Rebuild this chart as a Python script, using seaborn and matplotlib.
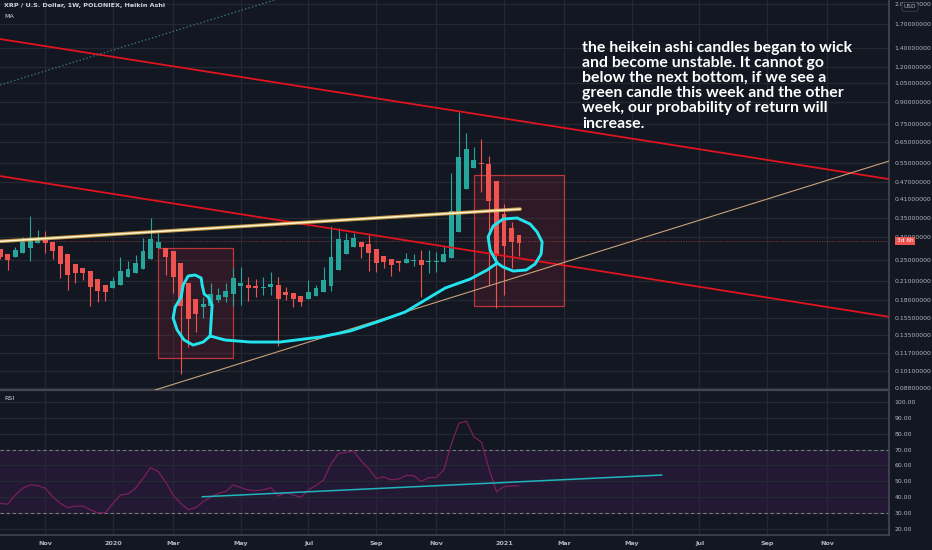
import numpy as np
import pandas as pd
import matplotlib
matplotlib.use("Agg")
import matplotlib.pyplot as plt
import matplotlib.dates as mdates
from matplotlib.ticker import FixedLocator, NullLocator, FuncFormatter
from matplotlib.patches import Rectangle
import seaborn as sns

# ---------------- data ----------------
first_week = "2019-09-23"
ha_open = [0.272, 0.262, 0.255, 0.264, 0.275, 0.286, 0.293, 0.288, 0.279, 0.262,
           0.241, 0.233, 0.228, 0.213, 0.203, 0.198, 0.203, 0.217, 0.224, 0.232,
           0.251, 0.275, 0.275, 0.268, 0.243, 0.207, 0.181, 0.170, 0.171, 0.180,
           0.184, 0.189, 0.202, 0.203, 0.202, 0.198, 0.200, 0.203, 0.192, 0.191,
           0.186, 0.181, 0.186, 0.192, 0.202, 0.230, 0.262, 0.277, 0.288, 0.284,
           0.272, 0.257, 0.251, 0.247, 0.243, 0.247, 0.249, 0.245, 0.245, 0.245,
           0.253, 0.313, 0.444, 0.526, 0.548, 0.544, 0.474, 0.362, 0.323, 0.305]
ha_high = [0.272, 0.262, 0.277, 0.300, 0.356, 0.318, 0.315, 0.288, 0.279, 0.262,
           0.241, 0.233, 0.228, 0.213, 0.203, 0.217, 0.255, 0.247, 0.260, 0.298,
           0.351, 0.310, 0.275, 0.268, 0.243, 0.207, 0.181, 0.184, 0.207, 0.198,
           0.207, 0.233, 0.235, 0.217, 0.213, 0.217, 0.226, 0.217, 0.200, 0.191,
           0.186, 0.212, 0.203, 0.235, 0.329, 0.323, 0.310, 0.310, 0.288, 0.305,
           0.272, 0.257, 0.251, 0.247, 0.264, 0.262, 0.270, 0.270, 0.266, 0.279,
           0.505, 0.830, 0.700, 0.624, 0.666, 0.580, 0.474, 0.393, 0.339, 0.305]
ha_low = [0.251, 0.230, 0.255, 0.264, 0.247, 0.286, 0.264, 0.251, 0.215, 0.195,
          0.207, 0.212, 0.171, 0.177, 0.179, 0.198, 0.203, 0.217, 0.224, 0.232,
          0.251, 0.275, 0.221, 0.191, 0.0986, 0.123, 0.139, 0.156, 0.171, 0.177,
          0.177, 0.171, 0.173, 0.179, 0.184, 0.187, 0.187, 0.124, 0.180, 0.170,
          0.171, 0.181, 0.186, 0.192, 0.194, 0.230, 0.262, 0.277, 0.253, 0.228,
          0.226, 0.233, 0.219, 0.228, 0.243, 0.237, 0.184, 0.224, 0.226, 0.245,
          0.253, 0.313, 0.444, 0.526, 0.433, 0.203, 0.169, 0.187, 0.233, 0.257]
ha_close = [0.255, 0.249, 0.270, 0.288, 0.298, 0.298, 0.286, 0.268, 0.241, 0.221,
            0.224, 0.224, 0.200, 0.194, 0.192, 0.210, 0.228, 0.232, 0.243, 0.268,
            0.296, 0.288, 0.255, 0.217, 0.171, 0.154, 0.161, 0.174, 0.189, 0.187,
            0.194, 0.215, 0.207, 0.198, 0.198, 0.200, 0.205, 0.181, 0.187, 0.181,
            0.177, 0.192, 0.198, 0.212, 0.255, 0.296, 0.293, 0.298, 0.277, 0.264,
            0.243, 0.245, 0.239, 0.243, 0.251, 0.249, 0.239, 0.247, 0.247, 0.262,
            0.371, 0.576, 0.614, 0.562, 0.544, 0.403, 0.257, 0.279, 0.288, 0.286]
rsi_values = [35.9, 35.5, 41.2, 45.5, 47.6, 47.2, 45.5, 40.0, 36.0, 33.2,
              34.2, 34.2, 31.8, 30.0, 30.0, 35.9, 41.2, 42.0, 45.5, 51.8,
              58.5, 56.2, 49.5, 41.2, 36.0, 31.9, 33.2, 37.0, 39.8, 42.3,
              43.5, 47.6, 45.9, 44.4, 44.0, 44.5, 45.9, 40.6, 42.9, 41.2,
              39.8, 44.5, 47.3, 50.7, 61.0, 67.6, 68.3, 69.1, 63.0, 58.0,
              51.8, 52.6, 50.9, 51.3, 53.7, 53.5, 49.8, 52.2, 52.4, 57.1,
              73.5, 86.7, 88.0, 78.0, 74.8, 58.0, 43.3, 46.5, 47.1, 46.9]
last_price = 0.29

price_ticks = [0.088, 0.101, 0.117, 0.135, 0.155, 0.18, 0.21, 0.25, 0.30, 0.35,
               0.41, 0.47, 0.55, 0.65, 0.75, 0.90, 1.05, 1.20, 1.40, 1.70, 2.00]
rsi_ticks = [20, 30, 40, 50, 60, 70, 80, 90, 100]
time_tick_dates = ["2019-11-04", "2020-01-06", "2020-03-02", "2020-05-04", "2020-07-06",
                   "2020-09-07", "2020-11-02", "2021-01-04", "2021-03-01", "2021-05-03",
                   "2021-07-05", "2021-09-06", "2021-11-01"]
time_tick_labels = ["Nov", "2020", "Mar", "May", "Jul", "Sep", "Nov", "2021",
                    "Mar", "May", "Jul", "Sep", "Nov"]

# drawings (time in weeks from first bar, price)
upper_channel_weeks = [0, 118.2]
upper_channel_prices = [1.502, 0.481]
lower_channel_weeks = [0, 118.2]
lower_channel_prices = [0.493, 0.157]
neckline_weeks = [0, 69.15]
neckline_prices = [0.290, 0.377]
support_weeks = [20.6, 118.2]
support_prices = [0.0866, 0.557]
dotted_weeks = [0, 53.2]
dotted_prices = [1.034, 2.83]
box1_weeks = [21.0, 31.0]
box1_prices = [0.1123, 0.2747]
box2_weeks = [63.0, 75.0]
box2_prices = [0.1714, 0.4972]
rsi_trend_weeks = [26.86, 88.0]
rsi_trend_values = [40.1, 53.9]
brush_weeks = [27.93, 28.06, 28.19, 27.66, 27.13, 26.86, 26.73, 25.93, 25.0, 24.34,
               24.07, 23.27, 23.0, 23.54, 24.47, 25.66, 27.0, 27.93,
               29.92, 33.24, 37.23, 42.55, 46.54, 50.53, 53.86, 56.52, 59.18, 62.5,
               64.76, 66.09,
               65.16, 64.89, 65.56, 66.89, 68.75, 70.48, 71.41, 72.07, 71.94, 71.14,
               69.95, 68.22, 66.89, 66.09]
brush_prices = [0.1343, 0.153, 0.1728, 0.1844, 0.189, 0.2033, 0.2152, 0.2205, 0.2188, 0.2033,
                0.1844, 0.170, 0.1555, 0.141, 0.130, 0.1248, 0.1279, 0.1343,
                0.130, 0.1279, 0.1279, 0.1332, 0.1399, 0.1518, 0.1633, 0.180, 0.1984, 0.2134,
                0.2297, 0.2431,
                0.2702, 0.3004, 0.3285, 0.3477, 0.3506, 0.3338, 0.3128, 0.2884, 0.2616, 0.2412,
                0.2297, 0.2278, 0.2353, 0.2431]

title_text = "XRP / U.S. Dollar, 1W, POLONIEX, Heikin Ashi"
note_text = ("the heikein ashi candles began to wick\n"
             "and become unstable. It cannot go\n"
             "below the next bottom, if we see a\n"
             "green candle this week and the other\n"
             "week, our probability of return will\n"
             "increase.")

# ---------------- style ----------------
BG = "#131722"
GRID = "#242833"
TXT = "#b2b5be"
UP = "#26a69a"
DOWN = "#ef5350"

sns.set_theme(style="dark", rc={"axes.facecolor": BG, "figure.facecolor": BG,
                                "axes.edgecolor": "#363a45", "grid.color": GRID})
plt.rcParams["font.family"] = ["DejaVu Sans"]

t0 = pd.Timestamp(first_week)
def wk(w):
    return t0 + pd.to_timedelta(np.asarray(w, dtype=float) * 7, unit="D")

dates = pd.date_range(first_week, periods=len(ha_open), freq="W-MON")
df = pd.DataFrame({"date": dates, "open": ha_open, "high": ha_high,
                   "low": ha_low, "close": ha_close, "rsi": rsi_values})
df["up"] = df["close"] >= df["open"]
df["color"] = np.where(df["up"], UP, DOWN)

fig = plt.figure(figsize=(9.32, 5.5), dpi=100)
ax = fig.add_axes([0, 160 / 550, 889 / 932, 390 / 550])
axr = fig.add_axes([0, 15 / 550, 889 / 932, 143 / 550], sharex=ax)

xlim = (wk(-0.02), wk(118.2))

# ---------- price pane ----------
ax.set_yscale("log")
ax.set_ylim(0.0866, 2.063)
ax.set_xlim(*xlim)
ax.yaxis.set_major_locator(FixedLocator(price_ticks))
ax.yaxis.set_minor_locator(NullLocator())
ax.yaxis.set_major_formatter(FuncFormatter(lambda v, p: f"{v:.8f}"))
ax.yaxis.tick_right()
ax.tick_params(axis="y", length=0, pad=4, labelsize=4.4, labelcolor=TXT)
ax.tick_params(axis="x", length=0, labelbottom=False)
ax.grid(True, color=GRID, lw=0.9)
tick_dates = pd.to_datetime(time_tick_dates)
ax.set_xticks(tick_dates)

# rectangles
for bw, bp in [(box1_weeks, box1_prices), (box2_weeks, box2_prices)]:
    x0, x1 = wk(bw)
    rx0, rx1 = mdates.date2num(x0), mdates.date2num(x1)
    ax.add_patch(Rectangle((rx0, bp[0]), rx1 - rx0, bp[1] - bp[0],
                           facecolor=(0.95, 0.21, 0.27, 0.12),
                           edgecolor=(0.95, 0.25, 0.25, 0.75), lw=0.9, zorder=1))

# last price line
ax.axhline(last_price, color=DOWN, lw=0.7, ls=(0, (1, 1.5)), alpha=0.55, zorder=1)

# candles
ax.vlines(df["date"], df["low"], df["high"], colors=df["color"], lw=0.8, zorder=3)
body_low = np.minimum(df["open"], df["close"])
body_h = np.maximum(np.abs(df["close"] - df["open"]), body_low * 0.006)
ax.bar(df["date"], body_h, bottom=body_low, width=4.6, color=df["color"],
       linewidth=0, zorder=4)

# trend drawings
ax.plot(wk(upper_channel_weeks), upper_channel_prices, color="#e0141e", lw=1.3, zorder=5)
ax.plot(wk(lower_channel_weeks), lower_channel_prices, color="#e0141e", lw=1.3, zorder=5)
ax.plot(wk(support_weeks), support_prices, color="#c9a27a", lw=0.8, zorder=5)
ax.plot(wk(dotted_weeks), dotted_prices, color="#3f6f7c", lw=1.0,
        ls=(0, (1, 1.6)), zorder=5)
ax.plot(wk(neckline_weeks), neckline_prices, color="#e8b04a", lw=2.6, alpha=0.8,
        solid_capstyle="round", zorder=6)
ax.plot(wk(neckline_weeks), neckline_prices, color="#fff6d5", lw=1.1, zorder=7)
ax.plot(wk(brush_weeks), brush_prices, color="#22e4ee", lw=2.1,
        solid_joinstyle="round", solid_capstyle="round", zorder=8)

for s in ["top", "left"]:
    ax.spines[s].set_visible(False)
ax.spines["right"].set_color("#434651")
ax.spines["bottom"].set_color("#434651")
ax.spines["bottom"].set_linewidth(1.6)

# ---------- RSI pane ----------
axr.set_ylim(15.9, 106.5)
axr.axhspan(30, 70, color="#9c27b0", alpha=0.13, lw=0, zorder=0)
for lvl in (30, 70):
    axr.axhline(lvl, color="#787b86", lw=0.8, ls=(0, (3, 2.5)), zorder=1)
sns.lineplot(data=df, x="date", y="rsi", ax=axr, color="#7b1f5c", lw=0.9, zorder=3)
axr.plot(wk(rsi_trend_weeks), rsi_trend_values, color="#1fb5bf", lw=1.1, zorder=4)
axr.set_xlim(*xlim)
axr.yaxis.set_major_locator(FixedLocator(rsi_ticks))
axr.yaxis.set_major_formatter(FuncFormatter(lambda v, p: f"{v:.2f}"))
axr.yaxis.tick_right()
axr.tick_params(axis="y", length=0, pad=4, labelsize=4.4, labelcolor=TXT)
axr.set_xticks(tick_dates)
axr.set_xticklabels(time_tick_labels)
axr.tick_params(axis="x", length=0, pad=4, labelsize=4.6, labelcolor=TXT)
for lab in axr.get_xticklabels():
    lab.set_fontweight("bold")
axr.grid(True, color=GRID, lw=0.9)
axr.set_xlabel("")
axr.set_ylabel("")
for s in ["top", "left"]:
    axr.spines[s].set_visible(False)
axr.spines["right"].set_color("#434651")
axr.spines["bottom"].set_color("#434651")
axr.spines["bottom"].set_linewidth(1.2)

# ---------- texts ----------
fig.text(4 / 932, 1 - 6 / 550, title_text, fontsize=4.6, color="#d1d4dc",
         va="center", ha="left", fontweight="bold")
fig.text(4 / 932, 1 - 17 / 550, "MA", fontsize=4.6, color="#d1d4dc", va="center", ha="left")
fig.text(4 / 932, 1 - 399 / 550, "RSI", fontsize=4.6, color="#d1d4dc", va="center", ha="left")
fig.text(582 / 932, 1 - 41 / 550, note_text, fontsize=11.4, color="white",
         family=["Lato", "DejaVu Sans"], fontweight="bold", va="top", ha="left",
         linespacing=1.1)
fig.text(905 / 932, 1 - 241 / 550, "3d 6h", fontsize=4.2, color="white", ha="center",
         va="center", bbox=dict(boxstyle="square,pad=0.25", fc=DOWN, ec="none"))
fig.text(910 / 932, 1 - 7 / 550, "USD", fontsize=4.2, color=TXT, ha="center",
         va="center", bbox=dict(boxstyle="round,pad=0.3", fc=BG, ec="#434651", lw=0.5))

fig.savefig("out.png", dpi=100, facecolor=BG)
